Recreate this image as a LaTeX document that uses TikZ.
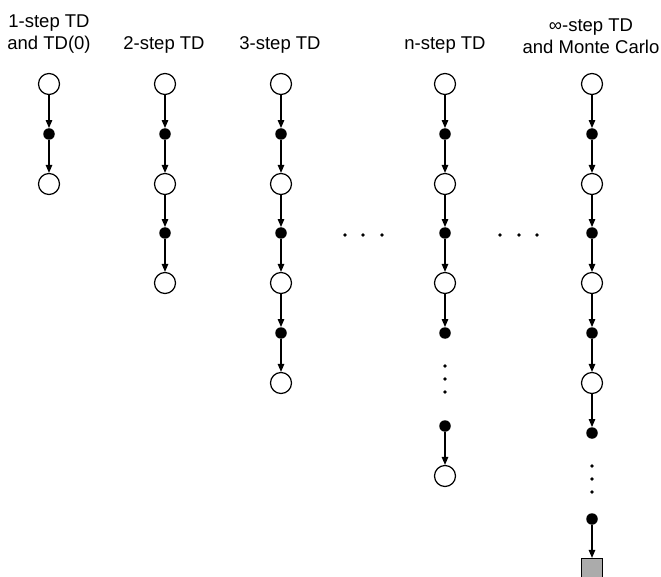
\documentclass[tikz,border=0pt]{standalone}
\usepackage{fontspec}
\setmainfont{Liberation Sans}
\usetikzlibrary{arrows.meta}
\begin{document}
\begin{tikzpicture}[x=1pt,y=-1pt,
  st/.style={circle,draw=black,line width=1.2pt,fill=white,minimum size=21pt,inner sep=0pt},
  act/.style={circle,fill=black,minimum size=11.5pt,inner sep=0pt},
  term/.style={rectangle,draw=black,line width=1.2pt,fill=black!33,minimum size=21pt,inner sep=0pt},
  conn/.style={line width=1.2pt,-{Triangle[width=6.5pt,length=8pt]}},
  lbl/.style={font=\fontsize{18.5}{22.5}\selectfont,align=center,anchor=south,inner sep=0pt},
  edot/.style={circle,fill=black,minimum size=3.6pt,inner sep=0pt}
]
\useasboundingbox (0,0) rectangle (661,577);
% labels
\node[lbl] (l1) at (49,54) {1-step TD\\and TD(0)};
\node[lbl] (l2) at (164,54) {2-step TD};
\node[lbl] (l3) at (280,54) {3-step TD};
\node[lbl] (l4) at (445,54) {n-step TD};
\node[lbl] (l5) at (591,54) {∞-step TD\\and Monte Carlo};
% column 1
\node[st] (a1) at (49,84) {};
\node[act] (a2) at (49,134) {};
\node[st] (a3) at (49,184) {};
\draw[conn] (a1) -- (a2);
\draw[conn] (a2) -- (a3);
% column 2
\node[st] (b1) at (165,84) {};
\node[act] (b2) at (165,134) {};
\node[st] (b3) at (165,184) {};
\node[act] (b4) at (165,233) {};
\node[st] (b5) at (165,283) {};
\draw[conn] (b1) -- (b2);
\draw[conn] (b2) -- (b3);
\draw[conn] (b3) -- (b4);
\draw[conn] (b4) -- (b5);
% column 3
\node[st] (c1) at (281,84) {};
\node[act] (c2) at (281,134) {};
\node[st] (c3) at (281,184) {};
\node[act] (c4) at (281,233) {};
\node[st] (c5) at (281,283) {};
\node[act] (c6) at (281,333) {};
\node[st] (c7) at (281,383) {};
\draw[conn] (c1) -- (c2);
\draw[conn] (c2) -- (c3);
\draw[conn] (c3) -- (c4);
\draw[conn] (c4) -- (c5);
\draw[conn] (c5) -- (c6);
\draw[conn] (c6) -- (c7);
% column 4
\node[st] (d1) at (445,84) {};
\node[act] (d2) at (445,134) {};
\node[st] (d3) at (445,184) {};
\node[act] (d4) at (445,233) {};
\node[st] (d5) at (445,283) {};
\node[act] (d6) at (445,333) {};
\node[edot] (dv1) at (445,366) {};
\node[edot] (dv2) at (445,379) {};
\node[edot] (dv3) at (445,392) {};
\node[act] (d7) at (445,426) {};
\node[st] (d8) at (445,476) {};
\draw[conn] (d1) -- (d2);
\draw[conn] (d2) -- (d3);
\draw[conn] (d3) -- (d4);
\draw[conn] (d4) -- (d5);
\draw[conn] (d5) -- (d6);
\draw[conn] (d7) -- (d8);
% column 5
\node[st] (e1) at (592,84) {};
\node[act] (e2) at (592,134) {};
\node[st] (e3) at (592,184) {};
\node[act] (e4) at (592,233) {};
\node[st] (e5) at (592,283) {};
\node[act] (e6) at (592,333) {};
\node[st] (e7) at (592,383) {};
\node[act] (e8) at (592,433) {};
\node[edot] (ev1) at (592,466) {};
\node[edot] (ev2) at (592,479) {};
\node[edot] (ev3) at (592,492) {};
\node[act] (e9) at (592,519) {};
\node[term] (e10) at (592,569) {};
\draw[conn] (e1) -- (e2);
\draw[conn] (e2) -- (e3);
\draw[conn] (e3) -- (e4);
\draw[conn] (e4) -- (e5);
\draw[conn] (e5) -- (e6);
\draw[conn] (e6) -- (e7);
\draw[conn] (e7) -- (e8);
\draw[conn] (e9) -- (e10);
% horizontal ellipses
\node[edot] (h1) at (345,235) {};
\node[edot] (h2) at (363,235) {};
\node[edot] (h3) at (382,235) {};
\node[edot] (h4) at (500,235) {};
\node[edot] (h5) at (519,235) {};
\node[edot] (h6) at (537,235) {};
\end{tikzpicture}
\end{document}
